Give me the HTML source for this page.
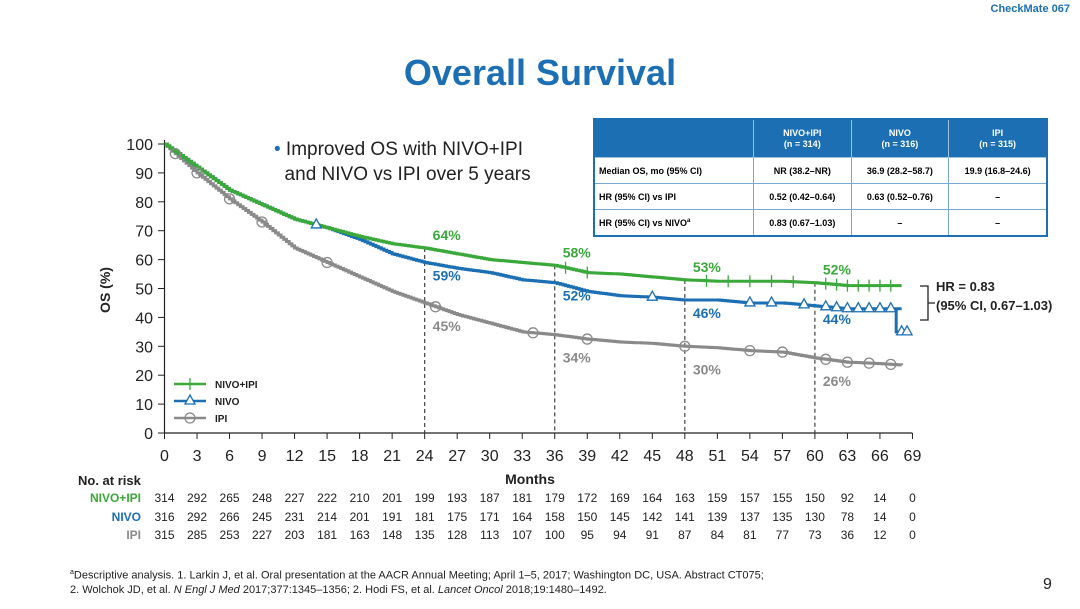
<!DOCTYPE html>
<html><head><meta charset="utf-8">
<style>
body{margin:0;background:#fff;font-family:"Liberation Sans",Arial,sans-serif;}
#wrap{position:relative;width:1080px;height:609px;overflow:hidden;}
.t{position:absolute;white-space:nowrap;}
table{border-collapse:collapse;position:absolute;left:593px;top:118px;width:455px;font-size:9px;font-weight:bold;border:2px solid #1c6fb3;}
td{border:1px solid #7aa8d4;padding:0 4px;height:25px;text-align:center;}
td:first-child{text-align:left;}
tr.h td{background:#1c6fb3;color:#fff;height:37px;border-color:#9cc0e2;line-height:11px;}
</style></head><body>
<div id="wrap">
<div class="t" style="right:10px;top:3px;font-size:11px;font-weight:bold;color:#1c6fb3;">CheckMate 067</div>
<div class="t" style="left:0;width:1080px;text-align:center;top:52px;font-size:36px;font-weight:bold;color:#1c6fb3;">Overall Survival</div>
<div class="t" style="left:274px;top:137px;font-size:19px;line-height:25px;color:#222;"><span style="color:#1c6fb3">•</span> Improved OS with NIVO+IPI<br>&nbsp;&nbsp;and NIVO vs IPI over 5 years</div>
<table>
<tr class="h"><td style="width:150px"></td><td>NIVO+IPI<br>(n = 314)</td><td>NIVO<br>(n = 316)</td><td>IPI<br>(n = 315)</td></tr>
<tr><td>Median OS, mo (95% CI)</td><td>NR (38.2–NR)</td><td>36.9 (28.2–58.7)</td><td>19.9 (16.8–24.6)</td></tr>
<tr><td>HR (95% CI) vs IPI</td><td>0.52 (0.42–0.64)</td><td>0.63 (0.52–0.76)</td><td>–</td></tr>
<tr><td>HR (95% CI) vs NIVO<sup style="font-size:6px">a</sup></td><td>0.83 (0.67–1.03)</td><td>–</td><td>–</td></tr>
</table>
<svg id="chart" width="1080" height="609" style="position:absolute;left:0;top:0"></svg>
<div class="t" style="left:70px;top:566px;font-size:11px;line-height:14px;color:#222;"><sup style="font-size:7px">a</sup>Descriptive analysis. 1. Larkin J, et al. Oral presentation at the AACR Annual Meeting; April 1–5, 2017; Washington DC, USA. Abstract CT075;<br>2. Wolchok JD, et al. <i>N Engl J Med</i> 2017;377:1345–1356; 2. Hodi FS, et al. <i>Lancet Oncol</i> 2018;19:1480–1492.</div>
<div class="t" style="left:1043px;top:576px;font-size:16px;color:#222;">9</div>
</div>
<script>
const months=[0,3,6,9,12,15,18,21,24,27,30,33,36,39,42,45,48,51,54,57,60,63,66,68];
const nivoIpi=[100,92,84,79,74,71,68,65.5,64,62,60,59,58,55.5,55,54,53,52.5,52.5,52.5,52,51,51,51];
const nivo=[100,92,84,79,74,71,67,62,59,57,55.5,53,52,49,47.5,47,46,46,45,45,44,43,43,43];
const ipi=[100,90,81,73,64,59,54,49,45,41,38,35,34,32.5,31.5,31,30,29.5,28.5,28,26,24.5,24,23.5];
const nivoTailMonths=[67.5,68.5];
const nivoTail=[35,35];
const xTicks=[0,3,6,9,12,15,18,21,24,27,30,33,36,39,42,45,48,51,54,57,60,63,66,69];
const yTicks=[0,10,20,30,40,50,60,70,80,90,100];
const landmarks=[24,36,48,60];
const lmNivoIpi=["64%","58%","53%","52%"];
const lmNivo=["59%","52%","46%","44%"];
const lmIpi=["45%","34%","30%","26%"];
const riskNivoIpi=[314,292,265,248,227,222,210,201,199,193,187,181,179,172,169,164,163,159,157,155,150,92,14,0];
const riskNivo=[316,292,266,245,231,214,201,191,181,175,171,164,158,150,145,142,141,139,137,135,130,78,14,0];
const riskIpi=[315,285,253,227,203,181,163,148,135,128,113,107,100,95,94,91,87,84,81,77,73,36,12,0];
const censNivoIpi=[37,39,50,52,54,56,58,61,62,63,64,65,66,67];
const censNivo=[14,45,54,56,59,61,62,63,64,65,66,67,68,68.5];
const censIpi=[1,3,6,9,15,25,34,39,48,54,57,61,63,65,67];
const G='#3aa83a',B='#1c6fb3',Gr='#8a8a8a';
const X=m=>164.5+m*10.84, Y=v=>433-v*2.89;
const svg=document.getElementById('chart');const NS='http://www.w3.org/2000/svg';
function mk(t,a,p){const e=document.createElementNS(NS,t);for(const k in a)e.setAttribute(k,a[k]);(p||svg).appendChild(e);return e;}
function txt(s,x,y,a){const e=mk('text',Object.assign({x:x,y:y,'font-family':'Liberation Sans, Arial, sans-serif'},a));e.textContent=s;return e;}
function interp(ms,vs,m){for(let i=0;i<ms.length-1;i++){if(m<=ms[i+1]){const f=(m-ms[i])/(ms[i+1]-ms[i]);return vs[i]+f*(vs[i+1]-vs[i]);}}return vs[vs.length-1];}
const ax=mk('g',{});


mk('line',{x1:164.5,y1:Y(100)-4,x2:164.5,y2:433,stroke:'#222','stroke-width':1.2},ax);
mk('line',{x1:164.5,y1:433,x2:X(69),y2:433,stroke:'#222','stroke-width':1.2},ax);
yTicks.forEach(v=>{mk('line',{x1:158,x2:164.5,y1:Y(v),y2:Y(v),stroke:'#222'},ax);
 const t=txt(v,153,Y(v)+6,{'font-size':16,'text-anchor':'end',fill:'#222'});});
xTicks.forEach(m=>{mk('line',{x1:X(m),x2:X(m),y1:433,y2:439,stroke:'#222'},ax);
 const t=txt(m,X(m),461,{'font-size':16,'text-anchor':'middle',fill:'#222'});});
const yt=txt('OS (%)',0,0,{'font-size':14,'font-weight':'bold','text-anchor':'middle',transform:'translate(110,290) rotate(-90)',fill:'#222'});


const xt=txt('Months',530,484,{'font-size':14,'font-weight':'bold','text-anchor':'middle',fill:'#222'});


function ilm(m){return interp(months,nivoIpi,m);}
landmarks.forEach(m=>{const l=mk('line',{x1:X(m),x2:X(m),y1:Y(ilm(m)),y2:433,stroke:'#444','stroke-dasharray':'4,3','stroke-width':1.2});
 });
function curve(ms,vs,col,name){let d='M'+X(ms[0])+','+Y(vs[0]);
 const steps=ms[ms.length-1]*4;
 for(let i=1;i<=steps;i++){const m=i/4;const v=interp(ms,vs,m);d+=' H'+X(m)+' V'+Y(v);}
 const p=mk('path',{d:d,fill:'none',stroke:col,'stroke-width':3});return p;}
curve(months,ipi,Gr,'ipi-curve');
curve(months,nivo,B,'nivo-curve');
const tp=mk('path',{d:'M'+X(67.5)+','+Y(nivo[nivo.length-1])+' V'+Y(nivoTail[0])+' H'+X(nivoTailMonths[1]),fill:'none',stroke:B,'stroke-width':3});


curve(months,nivoIpi,G,'nivo-ipi-curve');
function plus(x,y,c){mk('path',{d:`M${x-5},${y}H${x+5}M${x},${y-6}V${y+6}`,stroke:c,'stroke-width':1.3});}
function tri(x,y,c){mk('path',{d:`M${x},${y-6}L${x+5},${y+3}L${x-5},${y+3}Z`,stroke:c,fill:'#fff','stroke-width':1.3});}
function circ(x,y,c){mk('circle',{cx:x,cy:y,r:5,stroke:c,fill:'none','stroke-width':1.3});}
censIpi.forEach(m=>circ(X(m),Y(interp(months,ipi,m)),Gr));
censNivo.forEach(m=>{const v=m>67.5?nivoTail[0]:interp(months,nivo,m);tri(X(m),Y(v),B);});
censNivoIpi.forEach(m=>plus(X(m),Y(interp(months,nivoIpi,m)),G));
landmarks.forEach((m,i)=>{
 txt(lmNivoIpi[i],X(m)+8,Y(interp(months,nivoIpi,m))-8,{'font-size':14,'font-weight':'bold',fill:G});
 txt(lmNivo[i],X(m)+8,Y(interp(months,nivo,m))+18,{'font-size':14,'font-weight':'bold',fill:B});
 txt(lmIpi[i],X(m)+8,Y(interp(months,ipi,m))+28,{'font-size':14,'font-weight':'bold',fill:Gr});});
mk('path',{d:'M920,286 H928 V303 H935 M928,303 V320 H920',fill:'none',stroke:'#222','stroke-width':1.3});
txt('HR = 0.83',936,291,{'font-size':13,'font-weight':'bold',fill:'#222'});
txt('(95% CI, 0.67–1.03)',936,310,{'font-size':13,'font-weight':'bold',fill:'#222'});
const lg=[['NIVO+IPI',G,plus],['NIVO',B,tri],['IPI',Gr,circ]];
lg.forEach((e,i)=>{const y=384+i*17;mk('line',{x1:174,x2:206,y1:y,y2:y,stroke:e[1],'stroke-width':2.5});e[2](190,y,e[1]);
 const t=txt(e[0],215,y+4,{'font-size':10,'font-weight':'bold',fill:'#222'});});
txt('No. at risk',78,485,{'font-size':13,'font-weight':'bold',fill:'#222'});
[[riskNivoIpi,'NIVO+IPI',G,502],[riskNivo,'NIVO',B,521],[riskIpi,'IPI',Gr,539]].forEach(r=>{
 txt(r[1],141,r[3],{'font-size':12,'font-weight':'bold','text-anchor':'end',fill:r[2]});
 r[0].forEach((n,i)=>{const t=txt(n,X(xTicks[i]),r[3],{'font-size':12,'text-anchor':'middle',fill:'#222'});});});
</script>
</body></html>
